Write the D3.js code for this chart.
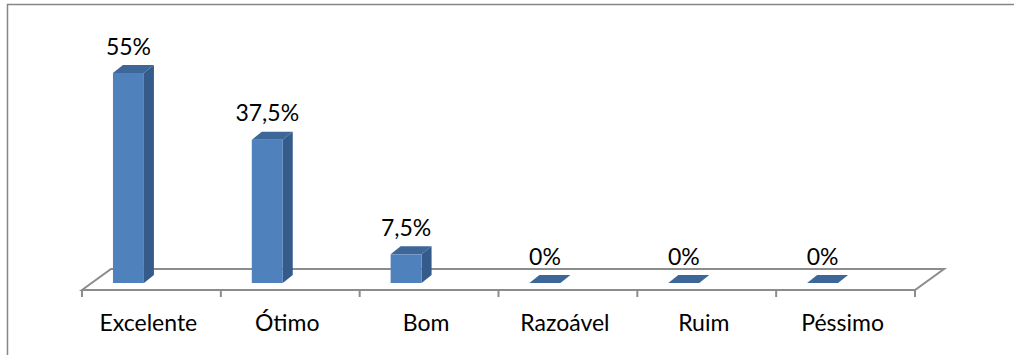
<!DOCTYPE html>
<html>
<head>
<meta charset="utf-8">
<script src="https://cdn.jsdelivr.net/npm/d3@7"></script>
<style>
  html, body { margin: 0; padding: 0; background: #fff; }
  svg { display: block; }
  text { font-family: Lato, "Open Sans", sans-serif; fill: #000; }
</style>
</head>
<body>
<svg id="chart" width="1014" height="355"></svg>
<script>
const categories = ["Excelente", "Ótimo", "Bom", "Razoável", "Ruim", "Péssimo"];
const values = [55, 37.5, 7.5, 0, 0, 0];
const valueLabels = ["55%", "37,5%", "7,5%", "0%", "0%", "0%"];

const svg = d3.select("#chart");

// outer border (extends beyond the window on right and bottom)
svg.append("rect")
  .attr("x", 7.5).attr("y", 4.5)
  .attr("width", 1030).attr("height", 380)
  .attr("fill", "none").attr("stroke", "#868686").attr("stroke-width", 1.5);

const x = d3.scaleBand().domain(categories).range([82, 915]).padding(0);
const y = d3.scaleLinear().domain([0, 55]).range([283, 73]);
const bw = x.bandwidth();

// floor depth
const fdx = 29, fdy = 21;
const floorFront = 290;
// bar depth
const bdx = 10, bdy = 8;
const barW = bw * 0.223;
const barOff = bw * 0.223;
const fontSize = 23;

const floor = svg.append("g");
const x0 = x.range()[0], x1 = x.range()[1];
floor.append("path")
  .attr("d", `M${x0},${floorFront}L${x0 + fdx},${floorFront - fdy}L${x1 + fdx},${floorFront - fdy}L${x1},${floorFront}Z`)
  .attr("fill", "none").attr("stroke", "#8c8c8c").attr("stroke-width", 2);

// ticks at category boundaries
const bounds = categories.map(c => x(c)).concat([x1]);
floor.selectAll("line.tick").data(bounds).enter().append("line")
  .attr("x1", d => d).attr("x2", d => d)
  .attr("y1", floorFront).attr("y2", floorFront + 7)
  .attr("stroke", "#8c8c8c").attr("stroke-width", 2);

// bars
const bars = svg.append("g").selectAll("g").data(categories).enter().append("g");
bars.each(function(c, i) {
  const g = d3.select(this);
  const left = x(c) + barOff;
  const right = left + barW;
  const top = y(values[i]);
  const base = y(0);
  if (values[i] > 0) {
    g.append("path") // side
      .attr("d", `M${right},${top}L${right + bdx},${top - bdy}L${right + bdx},${base - bdy}L${right},${base}Z`)
      .attr("fill", "#345b8a");
    g.append("rect") // front
      .attr("x", left).attr("y", top).attr("width", barW).attr("height", base - top)
      .attr("fill", "#4f81bd");
  }
  g.append("path") // top
    .attr("d", `M${left},${top}L${left + bdx},${top - bdy}L${right + bdx},${top - bdy}L${right},${top}Z`)
    .attr("fill", "#3d6699");
  g.append("text")
    .attr("x", left + barW / 2)
    .attr("y", top - 18.5)
    .attr("text-anchor", "middle")
    .attr("font-size", fontSize)
    .text(valueLabels[i]);
});

// category labels
svg.append("g").selectAll("text").data(categories).enter().append("text")
  .attr("x", d => x(d) + bw / 2 - 3)
  .attr("y", 331)
  .attr("text-anchor", "middle")
  .attr("font-size", fontSize)
  .text(d => d);
</script>
</body>
</html>
